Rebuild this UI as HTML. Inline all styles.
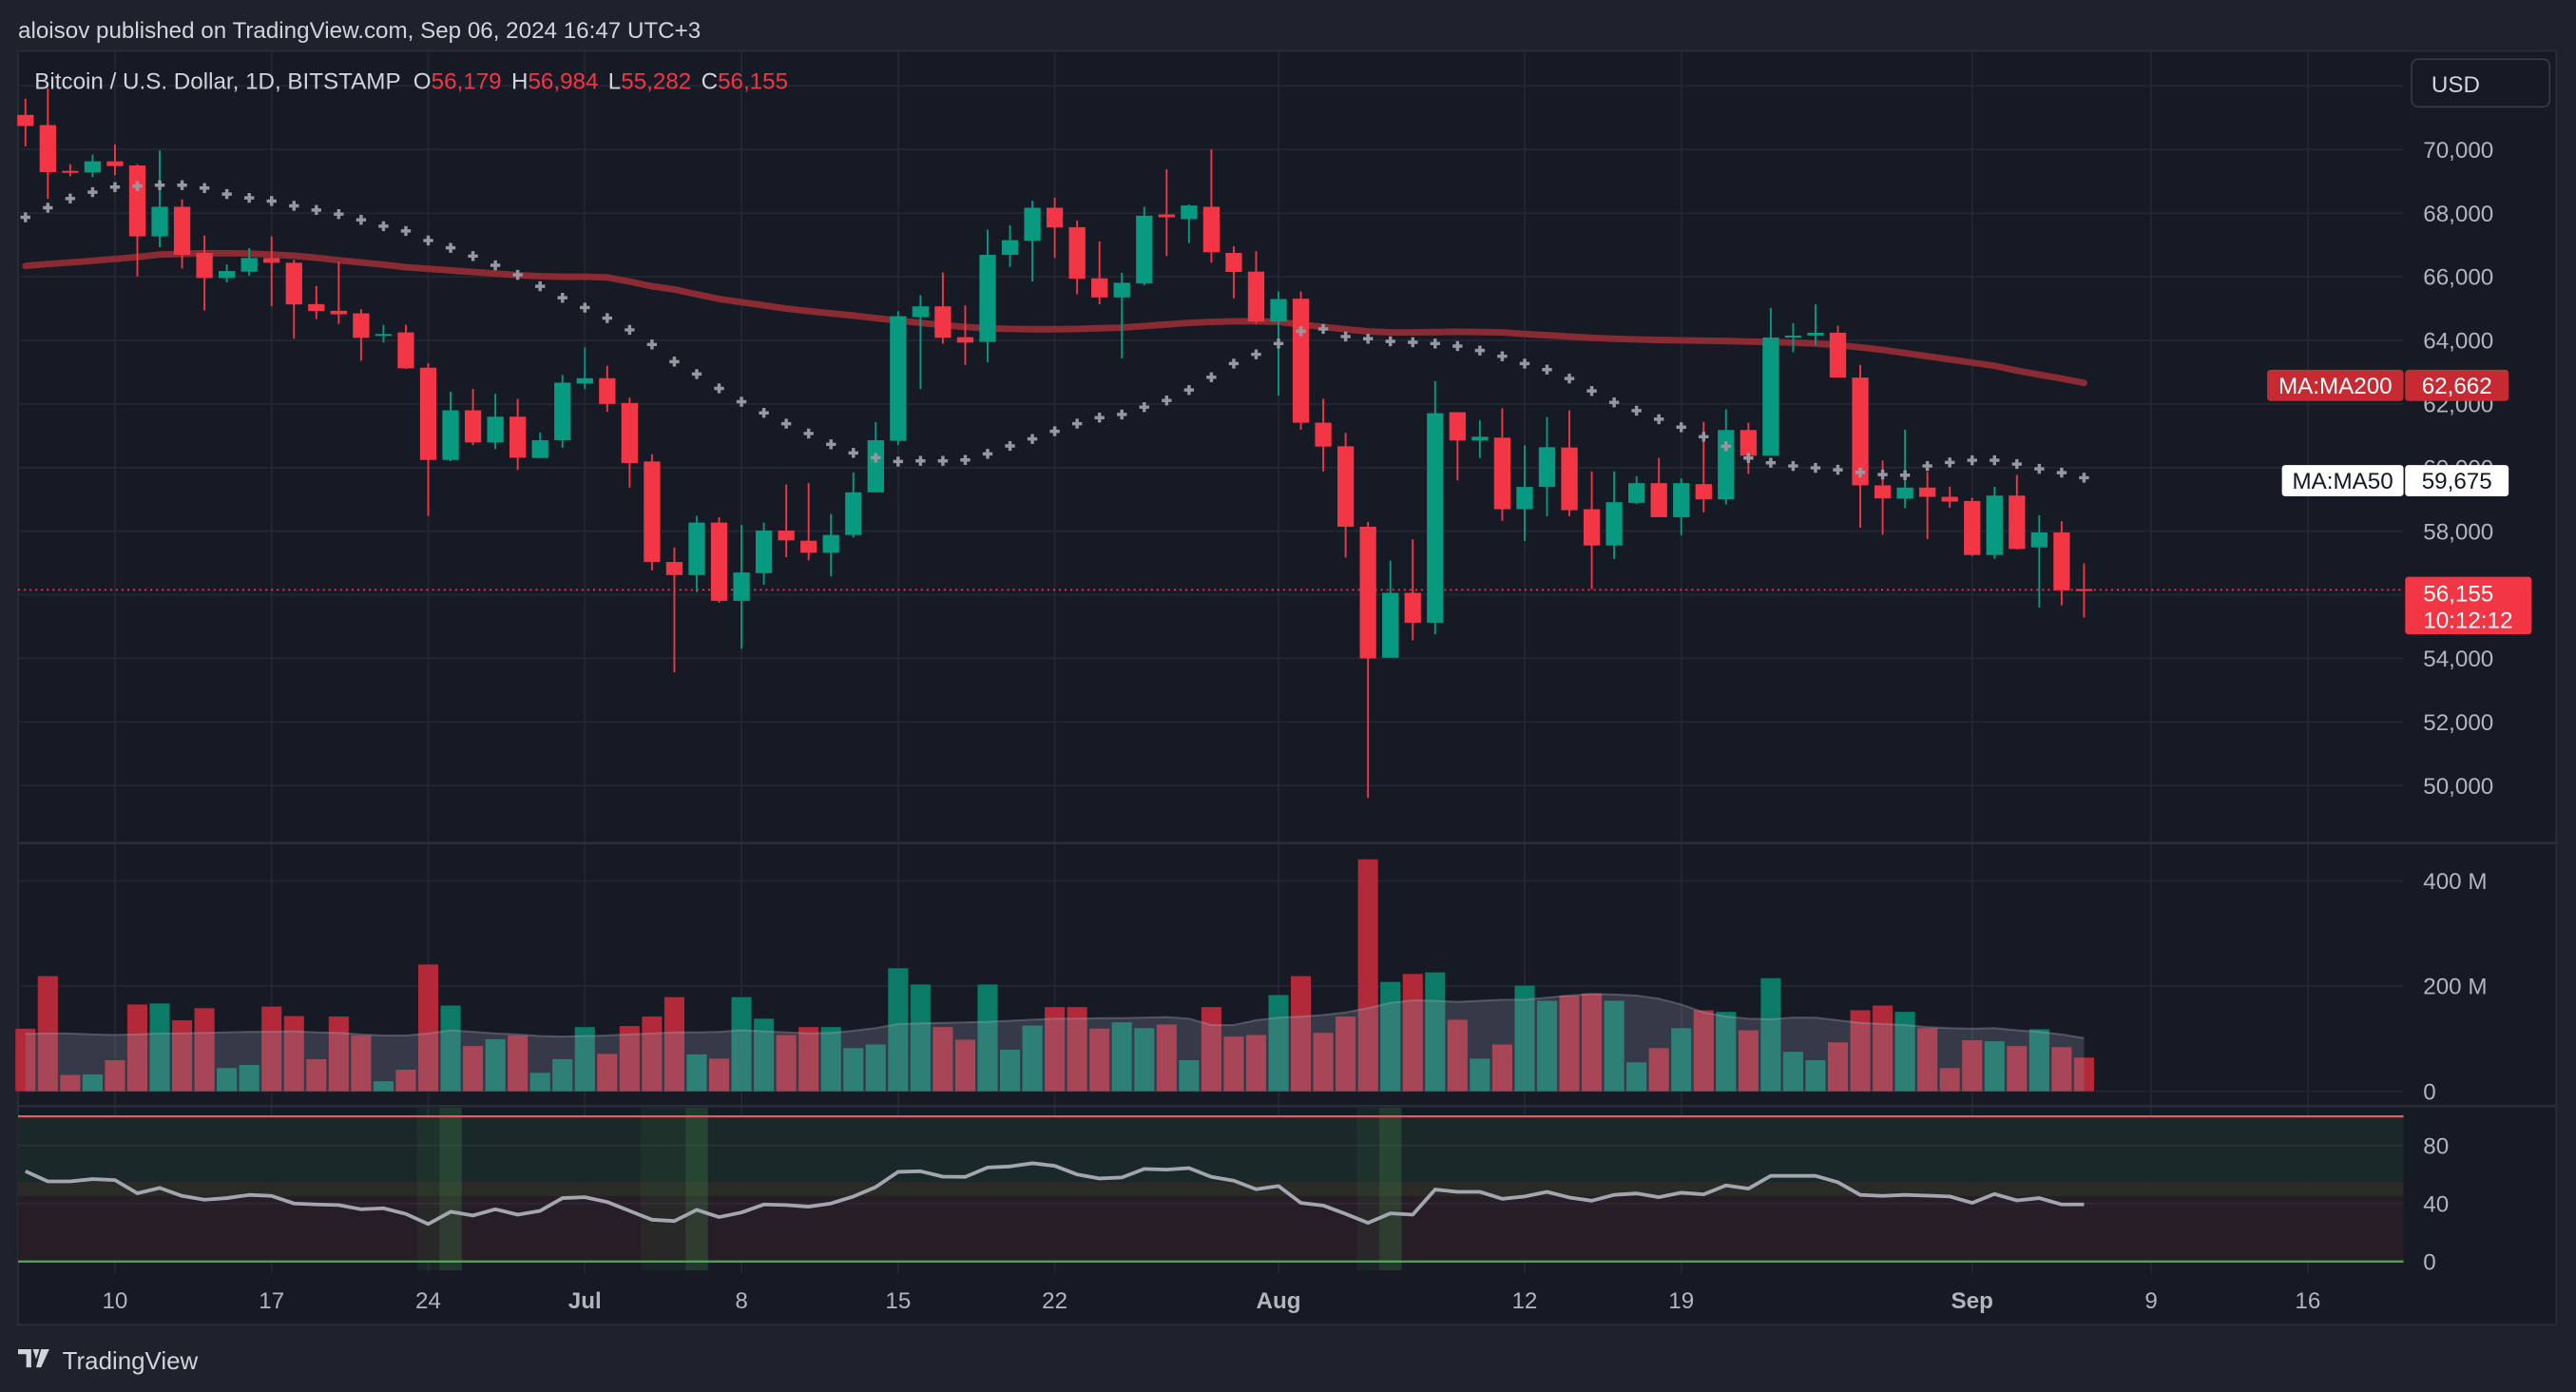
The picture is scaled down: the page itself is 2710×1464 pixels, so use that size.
<!DOCTYPE html>
<html><head><meta charset="utf-8">
<style>
html,body{margin:0;padding:0;background:#1e222d;}
svg{display:block;font-family:"Liberation Sans",Arial,sans-serif;}
</style></head>
<body>
<svg id="chart" width="2710" height="1464" viewBox="0 0 1568 847" preserveAspectRatio="none" xmlns="http://www.w3.org/2000/svg">
<rect x="0" y="0" width="1568" height="847" fill="#1e222d"/>
<rect x="11" y="31" width="1545" height="775" fill="#161a25" stroke="#2a2e39" stroke-width="1"/>
<text x="11" y="23" font-size="14" fill="#d1d4dc">aloisov published on TradingView.com, Sep 06, 2024 16:47 UTC+3</text>
<g id="grid"></g>
<g id="rsiBg"></g>
<g id="vol"></g>
<g id="candles"></g>
<g id="ind"></g>
<g id="axes"></g>
<text x="21" y="54" font-size="14" fill="#d1d4dc">Bitcoin / U.S. Dollar, 1D, BITSTAMP <tspan dx="4">O</tspan><tspan fill="#f23645">56,179</tspan><tspan dx="6">H</tspan><tspan fill="#f23645">56,984</tspan><tspan dx="6">L</tspan><tspan fill="#f23645">55,282</tspan><tspan dx="6">C</tspan><tspan fill="#f23645">56,155</tspan></text>
<rect x="1468" y="36" width="84" height="29" rx="4" fill="#161a25" stroke="#363a45"/>
<text x="1480" y="56" font-size="14" fill="#d1d4dc">USD</text>
<g>
<path d="M11 821h8v11h-3v-8h-5z M20 821h4l-2 6z M25 821h5l-5 11h-3z" fill="#d1d4dc"/>
<text x="38" y="833" font-size="15" fill="#d1d4dc">TradingView</text>
</g>
</svg>
<script>
// ---- data (prices in thousands USD, volume in millions) ----
const openK=[71.09,70.77,69.33,69.28,69.63,69.5,67.27,68.2,66.75,65.96,66.16,66.59,66.44,65.14,64.93,64.85,64.15,64.25,63.14,60.24,61.8,60.79,61.6,60.3,60.86,62.64,62.81,62.03,60.19,57.03,56.62,58.27,55.81,56.68,58.02,57.7,57.32,57.88,59.22,60.84,64.73,65.07,64.1,63.95,66.69,67.13,68.17,67.56,65.95,65.35,65.79,67.96,67.81,68.2,66.75,66.16,64.59,65.31,61.41,60.67,58.14,54.02,56.06,55.12,61.74,60.85,60.94,58.69,59.39,60.63,58.69,57.55,58.89,59.51,58.44,59.48,59.0,61.18,60.37,64.09,64.15,64.24,62.83,59.44,59.02,59.37,59.08,58.95,57.25,59.12,57.49,57.96,56.179];
const highK=[71.6,71.92,69.54,69.84,70.16,69.54,69.97,68.43,67.3,66.39,66.9,67.27,66.53,65.71,66.46,64.98,64.49,64.49,63.28,62.38,62.47,62.32,62.16,61.1,62.91,63.78,63.2,62.2,60.42,57.49,58.48,58.44,58.2,58.27,59.47,59.51,58.54,59.84,61.43,64.92,65.42,66.13,65.1,67.48,67.62,68.39,68.49,67.77,67.11,66.12,68.2,69.38,68.27,70.0,66.96,66.8,65.54,65.54,62.16,61.09,58.29,57.07,57.74,62.72,61.74,61.49,61.86,60.7,61.59,61.8,59.88,59.88,59.73,60.3,59.66,61.44,61.83,61.41,65.02,64.54,65.13,64.46,63.23,60.22,61.19,59.86,59.4,59.05,59.39,59.77,58.5,58.31,56.984];
const lowK=[70.1,68.45,69.16,69.13,69.19,66.01,66.93,66.26,64.94,65.82,66.03,65.07,64.05,64.67,64.52,63.36,63.93,63.1,58.48,60.2,60.7,60.58,59.93,60.3,60.62,62.47,61.75,59.37,56.77,53.56,56.09,55.75,54.3,56.31,57.18,57.08,56.58,57.8,59.22,60.71,62.47,63.9,63.23,63.31,66.31,65.85,66.59,65.45,65.13,63.43,65.73,66.65,67.06,66.44,65.32,64.52,62.26,61.19,59.88,57.17,49.61,54.02,54.57,54.76,59.6,60.3,58.33,57.69,58.47,58.47,56.18,57.13,58.85,58.44,57.87,58.59,58.84,59.8,60.37,63.62,63.84,62.83,58.11,57.89,58.72,57.75,58.74,57.22,57.13,57.42,55.6,55.67,55.282];
const closeK=[70.74,69.29,69.3,69.63,69.48,67.27,68.2,66.69,65.96,66.18,66.59,66.44,65.13,64.92,64.82,64.08,64.2,63.12,60.24,61.8,60.79,61.6,60.31,60.86,62.67,62.81,62.0,60.14,57.03,56.62,58.27,55.81,56.7,58.02,57.71,57.32,57.88,59.22,60.86,64.76,65.07,64.08,63.93,66.69,67.15,68.17,67.55,65.94,65.35,65.81,67.92,67.87,68.24,66.77,66.15,64.59,65.3,61.41,60.66,58.14,54.0,56.06,55.12,61.71,60.85,60.97,58.69,59.39,60.64,58.66,57.55,58.91,59.51,58.44,59.51,59.0,61.18,60.37,64.09,64.15,64.24,62.83,59.44,59.03,59.37,59.08,58.93,57.25,59.12,57.44,57.96,56.14,56.155];
const ma200K=[66.34,66.4,66.45,66.5,66.56,66.62,66.7,66.72,66.74,66.74,66.73,66.7,66.66,66.6,66.52,66.45,66.38,66.3,66.25,66.2,66.15,66.1,66.05,66.02,66.0,66.0,65.98,65.85,65.7,65.6,65.45,65.3,65.2,65.1,65.0,64.92,64.85,64.78,64.7,64.62,64.55,64.48,64.42,64.38,64.36,64.35,64.35,64.36,64.38,64.4,64.45,64.5,64.55,64.58,64.6,64.6,64.58,64.5,64.42,64.35,64.28,64.25,64.25,64.26,64.27,64.26,64.25,64.2,64.16,64.12,64.08,64.05,64.03,64.01,64.0,63.99,63.98,63.96,63.95,63.93,63.9,63.85,63.78,63.7,63.6,63.5,63.4,63.3,63.2,63.05,62.92,62.8,62.66];
const ma50K=[67.87,68.17,68.46,68.66,68.82,68.85,68.88,68.88,68.79,68.6,68.48,68.38,68.23,68.1,67.97,67.79,67.59,67.44,67.14,66.91,66.65,66.36,66.06,65.7,65.34,65.03,64.7,64.33,63.87,63.33,62.94,62.49,62.07,61.72,61.38,61.07,60.73,60.46,60.31,60.19,60.21,60.21,60.24,60.43,60.68,60.9,61.14,61.38,61.57,61.67,61.9,62.11,62.44,62.84,63.27,63.56,63.9,64.29,64.36,64.12,64.05,63.97,63.94,63.9,63.82,63.68,63.5,63.27,63.08,62.8,62.41,62.05,61.79,61.52,61.27,60.97,60.67,60.3,60.15,60.05,59.99,59.93,59.85,59.78,59.76,60.05,60.16,60.23,60.23,60.11,59.96,59.84,59.68];
const volumeM=[119,219,31,32,59,165,167,135,158,44,50,161,143,61,142,106,19,41,241,163,86,99,106,35,61,122,71,124,142,179,70,62,179,138,107,122,122,82,89,234,203,122,98,203,79,125,160,160,119,131,120,127,59,160,104,107,183,219,111,142,441,208,223,226,136,62,89,201,172,182,186,172,55,82,120,154,151,116,215,75,59,93,154,163,151,120,44,97,95,86,118,84,64];
const volMaM=[109,110,110,108,107,108,110,110,111,112,113,113,114,112,111,108,106,106,110,116,113,110,108,105,104,105,106,108,110,112,112,113,116,114,112,110,111,115,120,128,129,130,131,132,134,136,138,138,139,139,140,141,138,126,126,135,140,142,145,150,158,168,173,172,170,172,174,174,178,182,185,184,182,176,165,150,142,138,137,140,140,135,130,128,126,122,120,119,120,116,113,108,101];
const rsiVals=[62.2,55.2,55.2,56.8,56.1,47,50.7,45.2,42.6,43.7,45.9,45.2,40,39.3,38.9,36,36.7,32.8,25.8,34.3,31.7,36,32.3,34.9,43.7,44.3,41,34.9,28.8,27.9,35.6,30.6,33.8,39.3,38.9,37.8,40,44.8,51.3,61.8,62.2,58.5,58.3,64.8,65.5,67.7,65.9,60,57.2,57.9,63.8,63.3,64.4,58.3,55.7,49.8,52,40.4,38.6,32.8,26.6,33.2,32.3,49.6,48,48,43.2,44.8,48,44.1,41.9,45.9,46.9,44.3,47.4,46.3,52.4,50.2,59,59,59,54.6,45.9,45.2,45.9,45.4,44.8,40.4,46.5,42.1,43.7,39.3,39.3];
const rsiSignalDim=[18,28,29,60];
const rsiSignalBright=[19,30,61];
const priceTicks=[50,52,54,56,58,60,62,64,66,68,70,72];
const priceTickLabels=["50,000","52,000","54,000","56,000","58,000","60,000","62,000","64,000","66,000","68,000","70,000",""];
const volTicks=[0,200,400];
const volTickLabels=["0","200 M","400 M"];
const rsiTicks=[0,40,80];
const dateTickIdx=[4,11,18,25,32,39,46,56,67,74,87,95,102];
const dateTickLabels=["10","17","24","Jul","8","15","22","Aug","12","19","Sep","9","16"];
const lastPriceK=56.155, ma200Label="62,662", ma50Label="59,675";

// ---- axis functions (viewBox units) ----
const PL=11, PR=1463;
function xAt(i){return 15.5+13.62*i;}
function py(k){return 91+(70-k)*19.35;}
function vy(m){return 664-m*0.32;}
function ry(r){return 767.6-r*0.883;}

const NS="http://www.w3.org/2000/svg";
function mk(tag,attrs,parent){const e=document.createElementNS(NS,tag);for(const k in attrs)e.setAttribute(k,attrs[k]);parent.appendChild(e);return e;}
const G=id=>document.getElementById(id);
const GREEN="#089981", RED="#f23645";

// grid
const grid=G('grid');
priceTicks.forEach(t=>{const l=mk('line',{x1:PL,x2:PR,y1:py(t),y2:py(t),stroke:'#232733','stroke-width':1},grid);

});
volTicks.forEach(t=>{const l=mk('line',{x1:PL,x2:PR,y1:vy(t),y2:vy(t),stroke:'#232733','stroke-width':1},grid);

});
dateTickIdx.forEach(i=>{const l=mk('line',{x1:xAt(i),x2:xAt(i),y1:31,y2:775,stroke:'#232733','stroke-width':1},grid);

});
[513,673].forEach(y=>{const l=mk('line',{x1:PL,x2:1556,y1:y,y2:y,stroke:'#2a2e39','stroke-width':1.5},grid);

});

// RSI background
const rb=G('rsiBg');
let r1=mk('rect',{x:PL,y:ry(100),width:PR-PL,height:ry(55)-ry(100),fill:'#1b2829'},rb);


let r2=mk('rect',{x:PL,y:ry(55),width:PR-PL,height:ry(45)-ry(55),fill:'#2a2b27'},rb);


let r3=mk('rect',{x:PL,y:ry(45),width:PR-PL,height:ry(0)-ry(45),fill:'#271d27'},rb);


rsiTicks.forEach(t=>{const l=mk('line',{x1:PL,x2:PR,y1:ry(t),y2:ry(t),stroke:'rgba(255,255,255,0.05)'},rb);

});
rsiSignalDim.forEach(i=>{const r=mk('rect',{x:xAt(i)-6.8,y:674,width:13.6,height:99,fill:'rgba(76,175,80,0.08)'},rb);

});
rsiSignalBright.forEach(i=>{const r=mk('rect',{x:xAt(i)-6.8,y:674,width:13.6,height:99,fill:'rgba(76,175,80,0.22)'},rb);

});
let lt=mk('line',{x1:PL,x2:PR,y1:ry(100),y2:ry(100),stroke:'#f7525f','stroke-width':1.3},rb);


let lb=mk('line',{x1:PL,x2:PR,y1:ry(0),y2:ry(0),stroke:'#4caf50','stroke-width':1.3},rb);



// volume
const vg=G('vol');
volumeM.forEach((v,i)=>{const up=closeK[i]>=openK[i];
const r=mk('rect',{x:xAt(i)-6.1,y:vy(v),width:12.2,height:vy(0)-vy(v),fill:up?'#0b7a66':'#b22a3a'},vg);

});
let vd='M'+xAt(0)+' '+vy(0);
volMaM.forEach((v,i)=>{vd+=' L'+xAt(i)+' '+vy(v);});
vd+=' L'+xAt(volMaM.length-1)+' '+vy(0)+' Z';
let va=mk('path',{d:vd,fill:'rgba(140,145,165,0.28)'},vg);


let vl='';volMaM.forEach((v,i)=>{vl+=(i?' L':'M')+xAt(i)+' '+vy(v);});
let vml=mk('path',{d:vl,fill:'none',stroke:'rgba(160,165,180,0.35)','stroke-width':1.2},vg);



// MA200 line (behind candles)
const ind=G('ind');
const cg=G('candles');
let md='';ma200K.forEach((v,i)=>{md+=(i?' L':'M')+xAt(i)+' '+py(v);});
let m2=mk('path',{d:md,fill:'none',stroke:'#8a2a32','stroke-width':4,'stroke-linecap':'round'},cg);



// dotted last price line
let lp=mk('line',{x1:PL,x2:PR,y1:py(lastPriceK),y2:py(lastPriceK),stroke:RED,'stroke-width':1,'stroke-dasharray':'1.2 2.3'},cg);



// candles
openK.forEach((o,i)=>{const c=closeK[i],up=c>=o,col=up?GREEN:RED;
const w=mk('line',{x1:xAt(i),x2:xAt(i),y1:py(highK[i]),y2:py(lowK[i]),stroke:col,'stroke-width':1.1},cg);


const top=py(Math.max(o,c)),h=Math.max(1.2,Math.abs(py(o)-py(c)));
const b=mk('rect',{x:xAt(i)-5,y:top,width:10,height:h,fill:col},cg);

});

// MA50 crosses
ma50K.forEach((v,i)=>{const x=xAt(i),y=py(v);
const p=mk('path',{d:`M${x-3} ${y}H${x+3}M${x} ${y-3}V${y+3}`,stroke:'#9598a1','stroke-width':2},ind);

});

// RSI line
let rd='';rsiVals.forEach((v,i)=>{rd+=(i?' L':'M')+xAt(i)+' '+ry(v);});
let rl=mk('path',{d:rd,fill:'none',stroke:'#a3a6af','stroke-width':2.2,'stroke-linejoin':'round'},ind);



// axes labels
const ax=G('axes');
priceTicks.forEach((t,k)=>{if(!priceTickLabels[k])return;
const tx=mk('text',{x:1475,y:py(t)+5,'font-size':14,fill:'#b2b5be'},ax);tx.textContent=priceTickLabels[k];

});
volTicks.forEach((t,k)=>{const tx=mk('text',{x:1475,y:vy(t)+5,'font-size':14,fill:'#b2b5be'},ax);tx.textContent=volTickLabels[k];

});
rsiTicks.forEach(t=>{const tx=mk('text',{x:1475,y:ry(t)+5,'font-size':14,fill:'#b2b5be'},ax);tx.textContent=String(t);

});
dateTickIdx.forEach((i,k)=>{const lab=dateTickLabels[k],bold=/[A-Za-z]/.test(lab);
const tx=mk('text',{x:xAt(i),y:796,'font-size':14,fill:'#b2b5be','text-anchor':'middle','font-weight':bold?'bold':'normal'},ax);tx.textContent=lab;

});

// price badges
function badge(x,y,w,h,fill,color,txt,name){const g=mk('g',{},ax);


mk('rect',{x:x,y:y,width:w,height:h,fill:fill,rx:2},g);
const t=mk('text',{x:x+w/2,y:y+h/2+5,'font-size':14,fill:color,'text-anchor':'middle'},g);t.textContent=txt;}
badge(1380,225,83,19,'#c62b33','#ffffff','MA:MA200','ma200-name-badge');
badge(1464,225,63,19,'#c62b33','#ffffff',ma200Label,'ma200-value-badge');
badge(1389,283,74,19,'#ffffff','#131722','MA:MA50','ma50-name-badge');
badge(1464,283,63,19,'#ffffff','#131722',ma50Label,'ma50-value-badge');
const cp=mk('g',{},ax);


mk('rect',{x:1464,y:351,width:77,height:35,fill:RED,rx:2},cp);
const c1=mk('text',{x:1475,y:366,'font-size':14,fill:'#fff'},cp);c1.textContent='56,155';
const c2=mk('text',{x:1475,y:382,'font-size':14,fill:'#fff'},cp);c2.textContent='10:12:12';
</script>
</body></html>
